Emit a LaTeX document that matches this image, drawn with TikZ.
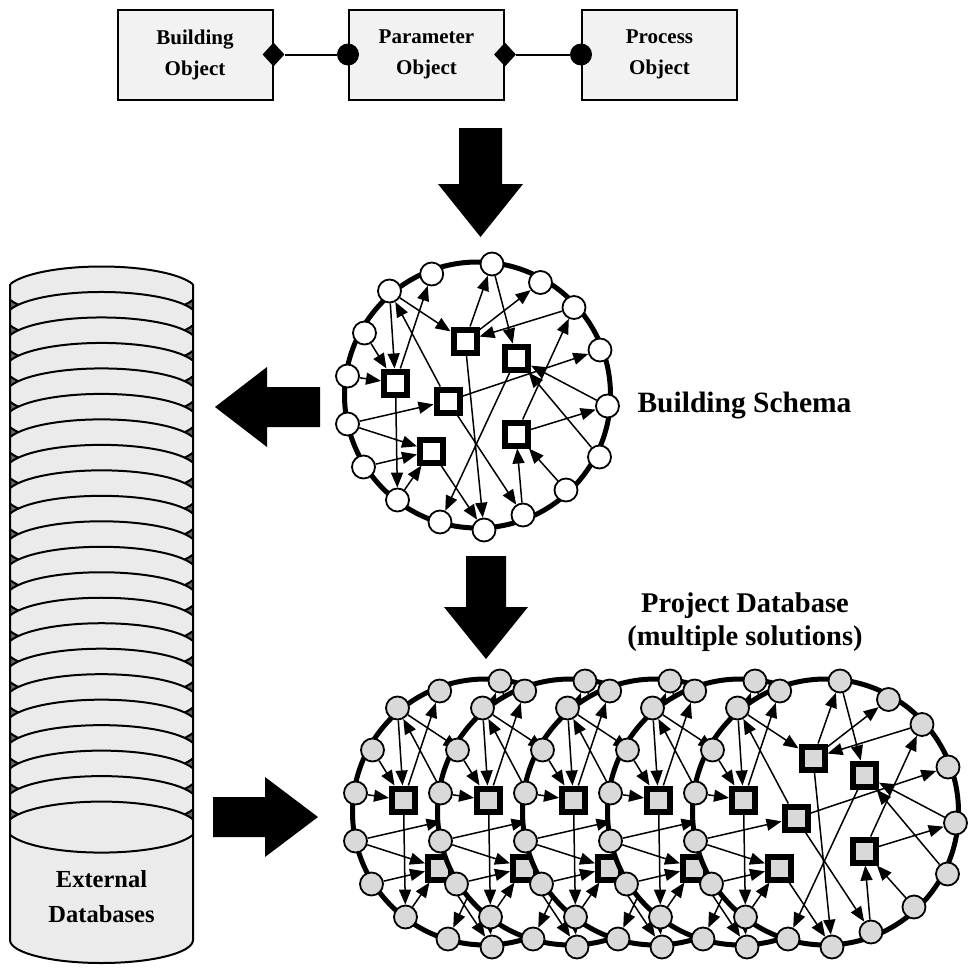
\documentclass[tikz,border=0pt]{standalone}
\usepackage{fontspec}
\setmainfont{Liberation Serif}
\usetikzlibrary{arrows.meta,shapes.geometric}

\tikzset{
  objbox/.style={draw, line width=2pt, fill=black!5, minimum width=155,
                 minimum height=90, align=center,
                 font=\bfseries\fontsize{21}{31}\selectfont},
  dia/.style={diamond, fill=black, minimum width=22, minimum height=24, inner sep=0},
  dot/.style={circle, fill=black, minimum size=22, inner sep=0},
  cnode/.style={circle, draw, line width=1.8pt, minimum size=23, inner sep=0},
  snode/.style={rectangle, draw, line width=6pt, minimum size=23, inner sep=0},
  link/.style={line width=1.5pt, -{Triangle[length=15pt,width=12pt]}},
  lbl/.style={align=center, font=\bfseries\fontsize{28.5}{33}\selectfont}
}

\newcommand{\schemanet}[1]{%
  \filldraw[fill=white, line width=5pt] (0,0) circle[radius=133];
  \foreach \n/\x/\y in {c1/14.5/-131, c2/-45.8/-121, c3/-88/-104, c4/63/-112.5,
          c5/96.5/-87.5, c6/-113/-62, c7/122.5/-45, c8/-130/-19, c9/130/11,
          c10/-130/29, c11/122/62, c12/-114/72, c13/88.5/95, c14/-80/105,
          c15/45.5/120, c16/-37.5/127, c17/6.5/135} {
      \node[cnode, fill=#1] (\n) at (\x,\y) {};
  }
  \foreach \n/\x/\y in {sA/-12.5/-54, sB/39/-37, sC/-82/-12, sD/-29.5/6,
          sE/38.5/39, sF/-46/56} {
      \node[snode, fill=#1] (\n) at (\x,\y) {};
  }
  \foreach \i/\j in {c3/sC, c6/sC, c8/sC, sC/c2, sC/c14, c3/sA, sD/c3, sA/c1,
          sA/c4, c5/sA, c1/sB, sA/c17, sB/c16, sE/c5, sD/c7, c9/sB, c11/sB,
          sE/c9, c13/sE, c15/sE, sD/c15, c10/sD, c10/sF, c12/sF, c14/sF, sF/c17} {
      \draw[link] (\i) -- (\j);
  }
}

\begin{document}
\begin{tikzpicture}[x=1pt, y=-1pt]
  \fill[white] (0,0) rectangle (967,969);
  \useasboundingbox (0,0) rectangle (967,969);

  % objects
  \node[objbox] (bo) at (195,54.5) {Building\\Object};
  \node[objbox] (pa) at (426.5,54.5) {Parameter\\Object};
  \node[objbox] (pr) at (659.5,54.5) {Process\\Object};
  \node[dia] (d1) at (bo.east) {};
  \node[dot] (k1) at (pa.west) {};
  \node[dia] (d2) at (pa.east) {};
  \node[dot] (k2) at (pr.west) {};
  \draw[line width=2pt] (d1) -- (k1);
  \draw[line width=2pt] (d2) -- (k2);

  % big arrows
  \fill (459,128) -- (502,128) -- (502,184) -- (523,184) -- (480.5,237)
        -- (438,184) -- (459,184) -- cycle;
  \fill (466,556) -- (506,556) -- (506,607) -- (528,607) -- (486,659)
        -- (444,607) -- (466,607) -- cycle;
  \fill (320,387) -- (320,427) -- (267,427) -- (267,447) -- (215,407)
        -- (267,367) -- (267,387) -- cycle;
  \fill (213,797) -- (265,797) -- (265,777) -- (318,817) -- (265,857)
        -- (265,837) -- (213,837) -- cycle;

  % schema
  \begin{scope}[shift={(477.5,395)}, name prefix=t-]
    \schemanet{white}
  \end{scope}
  \node[lbl, anchor=west, font=\bfseries\fontsize{29.5}{33}\selectfont] (bs)
        at (634,406) {Building Schema};

  % project database
  \foreach \k in {0,...,4} {
    \begin{scope}[shift={({485.5+85*\k},812)}, name prefix=b\k-]
      \schemanet{black!15}
    \end{scope}
  }
  \node[lbl] (pd) at (745,622) {Project Database\\(multiple solutions)};

  % external databases
  \fill[black!8] (10,284) -- (10,940) arc[start angle=180, end angle=0,
        x radius=91.5, y radius=23] -- (193,284) -- cycle;
  \fill[black!60] (10,292) rectangle (193,827);
  \begin{scope}
    \clip (10,200) rectangle (193,960);
    \foreach \k in {0,...,21} {
      \filldraw[fill=black!8, line width=2pt] (101.5,{292+25.48*\k})
          ellipse[x radius=96, y radius=25.5];
    }
  \end{scope}
  \draw[line width=2pt] (10,284) -- (10,940) arc[start angle=180, end angle=0,
        x radius=91.5, y radius=23] -- (193,284);
  \node[lbl, font=\bfseries\fontsize{24.5}{35}\selectfont] (ext) at (101.5,897)
        {External\\Databases};
\end{tikzpicture}
\end{document}
